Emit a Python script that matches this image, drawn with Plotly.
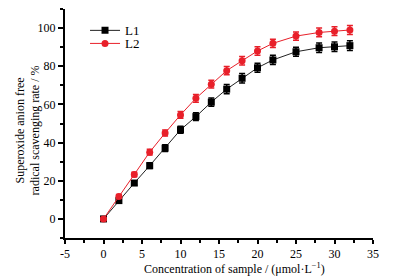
import plotly.graph_objects as go

conc = [0, 2, 4, 6, 8, 10, 12, 14, 16, 18, 20, 22, 25, 28, 30, 32]
l1 = [0, 9.6, 18.8, 27.9, 37.1, 46.7, 53.6, 61.2, 68.0, 73.7, 79.2, 83.3, 87.6, 89.7, 90.2, 90.8]
l2 = [0, 11.8, 23.3, 35.0, 45.0, 54.5, 63.2, 70.6, 77.7, 82.9, 88.0, 92.0, 95.8, 97.7, 98.4, 99.0]
l1_err = [0.8, 1.0, 1.2, 1.5, 1.8, 1.8, 2.0, 2.2, 2.4, 2.5, 2.4, 2.4, 2.4, 2.5, 2.5, 2.5]
l2_err = [0.8, 1.0, 1.2, 1.5, 1.6, 1.8, 2.0, 2.0, 2.2, 2.2, 2.2, 2.2, 2.2, 2.3, 2.3, 2.4]
x_ticks = [-5, 0, 5, 10, 15, 20, 25, 30, 35]
x_ticklabels = ["-5", "0", "5", "10", "15", "20", "25", "30", "35"]
y_ticks = [0, 20, 40, 60, 80, 100]
x_title = "Concentration of sample / (μmol·L<sup>−1</sup>)"
y_title = "Superoxide anion free<br>radical scavenging rate / %"

font = "Liberation Serif"

fig = go.Figure()
fig.add_trace(go.Scatter(
    x=conc, y=l1, name="L1", mode="lines+markers", legend="legend",
    line=dict(color="#222222", width=1),
    marker=dict(symbol="square", size=7, color="#000000"),
    error_y=dict(type="data", array=l1_err, color="#000000", thickness=1.5, width=3),
))
fig.add_trace(go.Scatter(
    x=conc, y=l2, name="L2", mode="lines+markers", legend="legend2",
    line=dict(color="#e8202a", width=1),
    marker=dict(symbol="circle", size=7, color="#e8202a"),
    error_y=dict(type="data", array=l2_err, color="#e8202a", thickness=1.5, width=3),
))

axis_common = dict(
    showline=True, linecolor="black", linewidth=2, mirror=False,
    ticks="outside", tickwidth=2, tickcolor="black",
    showgrid=False, zeroline=False, automargin=False,
    tickfont=dict(family=font, size=12, color="black"),
)

leg_common = dict(xanchor="left", yanchor="top", bgcolor="rgba(0,0,0,0)",
                  font=dict(family=font, size=13, color="black"), itemwidth=30)

fig.update_layout(
    width=395, height=278,
    margin=dict(l=65, r=22, t=9, b=40),
    paper_bgcolor="white", plot_bgcolor="white",
    font=dict(family=font, size=12, color="black"),
    showlegend=True,
    legend=dict(x=0.065, y=0.972, **leg_common),
    legend2=dict(x=0.065, y=0.915, **leg_common),
    xaxis=dict(range=[-5, 35], tickvals=x_ticks, ticktext=x_ticklabels, ticklen=4,
               minor=dict(ticks="outside", ticklen=3, tickwidth=2, tickcolor="black", dtick=2.5, tick0=-5),
               **axis_common),
    yaxis=dict(range=[-10, 110], tickvals=y_ticks, ticklen=5,
               minor=dict(ticks="outside", ticklen=3, tickwidth=2, tickcolor="black", dtick=10, tick0=0),
               **axis_common),
    annotations=[
        dict(text=x_title, xref="paper", yref="paper", x=0.55, y=-0.135,
             xanchor="center", yanchor="middle", showarrow=False,
             font=dict(family=font, size=12, color="black")),
        dict(text=y_title, xref="paper", yref="paper", x=-0.12, y=0.47,
             xanchor="center", yanchor="middle", showarrow=False, textangle=-90,
             font=dict(family=font, size=12, color="black")),
    ],
)

fig.write_html("out.html", config={"displayModeBar": False},
               post_script="document.body.style.margin='0';")
